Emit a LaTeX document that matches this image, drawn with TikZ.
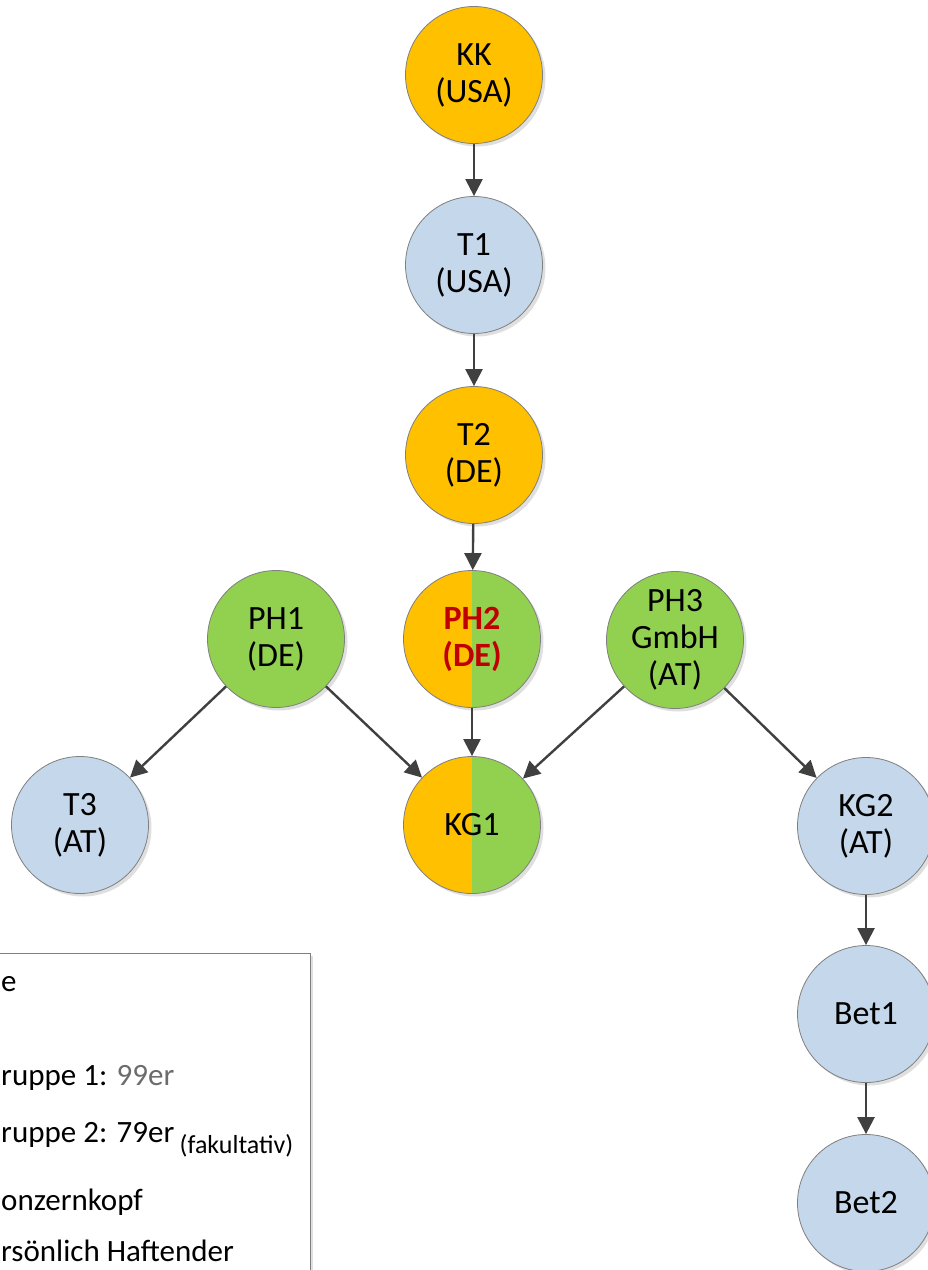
\documentclass[tikz,border=0pt]{standalone}
\usepackage{fontspec}
\setmainfont{Carlito}
\usepackage{xcolor}
\usepackage{tikz}
\usetikzlibrary{positioning, shapes, arrows.meta, calc, shadows}

\definecolor{ko}{HTML}{FFC000}
\definecolor{tb}{HTML}{C5D7EA}
\definecolor{ph}{HTML}{92D050}
\definecolor{rim}{HTML}{7F7F7F}
\definecolor{ink}{HTML}{404040}
\definecolor{hl}{HTML}{C00000}

\begin{document}
\begin{tikzpicture}[x=1pt, y=-1pt,
    ent/.style={circle, draw=rim, line width=0.8pt, minimum size=137pt, inner sep=0pt,
      align=center, font=\fontsize{34}{37}\selectfont,
      drop shadow={shadow xshift=3pt, shadow yshift=-3pt, opacity=0.25, fill=gray}},
    kopf/.style={ent, fill=ko},
    tochter/.style={ent, fill=tb},
    phg/.style={ent, fill=ph},
    halb/.style={ent, fill=white, path picture={
      \fill[ko] (path picture bounding box.north west) rectangle (path picture bounding box.south);
      \fill[ph] (path picture bounding box.north) rectangle (path picture bounding box.south east);}},
    arr/.style={-{Triangle[length=17pt, width=17pt]}, line width=2.4pt, draw=ink},
    leg/.style={anchor=base west, font=\fontsize{31}{36}\selectfont, inner sep=0pt}]
        \clip (0,0) rectangle (928,1270);

        % Entities
        \node[kopf] (kk) at (474,75) {KK\\(USA)};
        \node[tochter] (t1) at (474,265) {T1\\(USA)};
        \node[kopf] (t2) at (474,455) {T2\\(DE)};
        \node[phg] (ph1) at (276,639) {PH1\\(DE)};
        \node[halb, font=\fontsize{34}{37}\selectfont\bfseries, text=hl] (ph2) at (472,639) {PH2\\(DE)};
        \node[phg] (ph3) at (675,640) {PH3\\GmbH\\(AT)};
        \node[tochter] (t3) at (80,825) {T3\\(AT)};
        \node[halb] (kg1) at (472,825) {KG1};
        \node[tochter] (kg2) at (866,826) {KG2\\(AT)};
        \node[tochter] (bet1) at (866,1014) {Bet1};
        \node[tochter] (bet2) at (866,1203) {Bet2};

        % Holding chain
        \foreach \a/\b in {kk/t1, t1/t2, t2/ph2, ph2/kg1, ph1/t3, ph1/kg1, ph3/kg1, ph3/kg2, kg2/bet1, bet1/bet2}
          \draw[arr] (\a) -- (\b);

        % Legend
        \draw[rim, line width=0.8pt, fill=white,
          drop shadow={shadow xshift=3pt, shadow yshift=-3pt, opacity=0.25, fill=gray}] (-10,953) rectangle (310,1300);
        \node[leg] (l0) at (1,991) {e};
        \node[leg] (l1) at (1,1085) {ruppe 1: \textcolor{gray!85!black}{99er}};
        \node[leg] (l2) at (1,1142) {ruppe 2: 79er};
        \node[anchor=base west, inner sep=0pt, font=\fontsize{26}{30}\selectfont] (l2s) at ([xshift=5pt, yshift=-11pt]l2.base east) {(fakultativ)};
        \node[leg] (l3) at (1,1210) {onzernkopf};
        \node[leg] (l4) at (1,1261) {rsönlich Haftender};
      \end{tikzpicture}
\end{document}
